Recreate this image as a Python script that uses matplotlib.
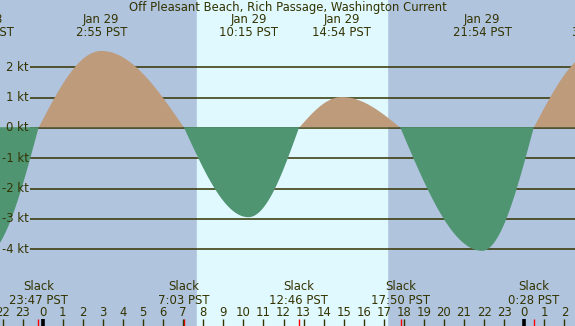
import numpy as np
import matplotlib
matplotlib.use("Agg")
import matplotlib.pyplot as plt

# events, hours from midnight Jan 29 (PST)
event_hours = [-2.9, -0.217, 2.917, 7.05, 10.25, 12.767, 14.9, 17.833, 21.9, 24.467, 27.65]
event_kt = [-4.2, 0.0, 2.54, 0.0, -2.94, 0.0, 1.02, 0.0, -4.05, 0.0, 2.55]
event_top = [("Jan 28", "21:05 PST"), None, ("Jan 29", "2:55 PST"), None,
             ("Jan 29", "10:15 PST"), None, ("Jan 29", "14:54 PST"), None,
             ("Jan 29", "21:54 PST"), None, ("Jan 30", "3:39 PST")]
slack_labels = [None, "23:47 PST", None, "7:03 PST", None, "12:46 PST", None,
                "17:50 PST", None, "0:28 PST", None]
sunrise, sunset = 7.687, 17.16
kt_ticks = [2, 1, 0, -1, -2, -3, -4]
hour_ticks = list(range(-2, 27))

title = "Off Pleasant Beach, Rich Passage, Washington Current"
NIGHT = "#b0c4de"
DAY = "#e0f8ff"
FLOOD = "#bd9b7b"
EBB = "#509572"
INK = "#333300"
W, H = 575, 326

# curve: quarter-sine between slack and extreme events
t = np.linspace(-2.2, 26.7, 3000)
v = np.zeros_like(t)
for i in range(len(event_hours) - 1):
    t0, t1 = event_hours[i], event_hours[i + 1]
    a0, a1 = event_kt[i], event_kt[i + 1]
    m = (t >= t0) & (t <= t1)
    f = (t[m] - t0) / (t1 - t0)
    if a0 == 0:
        v[m] = a1 * np.sin(f * np.pi / 2)
    else:
        v[m] = a0 * np.cos(f * np.pi / 2)

fig = plt.figure(figsize=(W / 100, H / 100), dpi=100)
ax = fig.add_axes([0, 0, 1, 1])
x0 = -42.8 / 20.06
x1 = (W - 42.8) / 20.06
ax.set_xlim(x0, x1)
ax.set_ylim(-(H - 128) / 30.33, 128 / 30.33)
ax.axis("off")
ax.set_facecolor(NIGHT)
fig.patch.set_facecolor(NIGHT)
ax.axvspan(sunrise, sunset, color=DAY, zorder=0)

def px_x(p):
    return x0 + p / 20.06

fs = 8.4

for k in kt_ticks:
    ax.plot([px_x(30), x1], [k, k], color=INK, lw=1.1, zorder=1, solid_capstyle="butt")
    ax.text(px_x(28.5), k, f"{k} kt", ha="right", va="center", fontsize=fs, color=INK, zorder=4)

# ebb fill hides the zero line, flood fill sits just above it
eps = 0.8 / 30.33
ax.fill_between(t, eps, v, where=v >= 0, interpolate=True, color=FLOOD, lw=0, zorder=2)
ax.fill_between(t, eps, v, where=v <= 0, interpolate=True, color=EBB, lw=0, zorder=2)

tr = ax.get_xaxis_transform()
def fy(p):
    return 1 - p / H

ax.text(0.5, fy(7), title, transform=ax.transAxes, ha="center", va="center", fontsize=fs, color=INK)
for h, top, sl in zip(event_hours, event_top, slack_labels):
    if top:
        ax.text(h, fy(19), top[0], transform=tr, ha="center", va="center", fontsize=fs, color=INK)
        ax.text(h, fy(32), top[1], transform=tr, ha="center", va="center", fontsize=fs, color=INK)
    if sl:
        ax.text(h, fy(287), "Slack", transform=tr, ha="center", va="center", fontsize=fs, color=INK)
        ax.text(h, fy(300), sl, transform=tr, ha="center", va="center", fontsize=fs, color=INK)
        ax.vlines(h, 0, fy(319), transform=tr, color="red", lw=1.0, zorder=5)

for h in hour_ticks:
    ax.text(h, fy(312), str(h % 24), transform=tr, ha="center", va="center", fontsize=fs, color=INK)
    if h % 24 == 0:
        ax.vlines(h, 0, fy(319), transform=tr, color="black", lw=2.6, zorder=5)
    else:
        ax.vlines(h, 0, fy(319), transform=tr, color=INK, lw=1.0, zorder=5)

fig.savefig("out.png", dpi=100, facecolor=NIGHT)
